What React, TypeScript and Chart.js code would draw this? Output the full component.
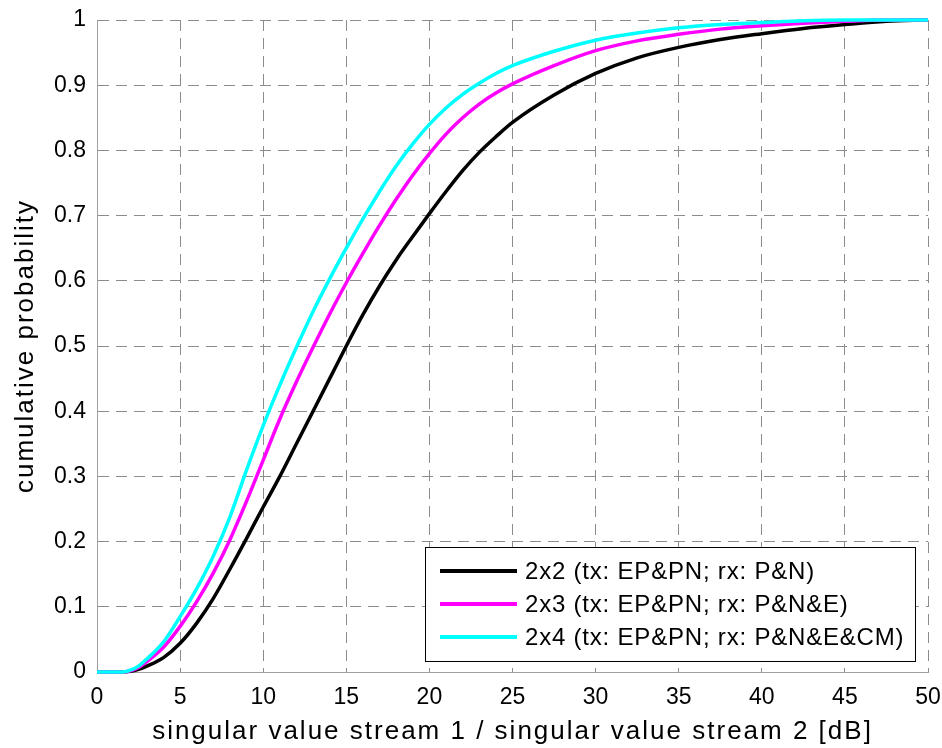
import React, { useEffect, useRef } from "react";
import { Chart, registerables } from "chart.js";

Chart.register(...registerables);

// x positions (dB) at which the curves were read
const xValues = [
  0, 1, 1.5, 2, 2.5, 3, 4, 5, 6, 7, 8, 9, 10, 11, 12, 13, 14, 15, 16, 17, 18, 19, 20,
  21, 22, 23, 24, 25, 27.5, 30, 32.5, 35, 37.5, 40, 42.5, 45, 47.5, 50,
];

const cdf2x2 = [
  0, 0, 0, 0.001, 0.004, 0.009, 0.022, 0.044, 0.075, 0.113, 0.158, 0.205, 0.253, 0.3, 0.35,
  0.4, 0.45, 0.5, 0.548, 0.592, 0.632, 0.668, 0.703, 0.737, 0.769, 0.797, 0.821, 0.843,
  0.885, 0.918, 0.942, 0.958, 0.97, 0.979, 0.987, 0.993, 0.998, 1,
];

const cdf2x3 = [
  0, 0, 0, 0.002, 0.007, 0.016, 0.038, 0.07, 0.108, 0.152, 0.203, 0.262, 0.325, 0.388, 0.445,
  0.498, 0.549, 0.597, 0.642, 0.685, 0.725, 0.762, 0.795, 0.825, 0.85, 0.871, 0.888, 0.902,
  0.93, 0.953, 0.968, 0.978, 0.986, 0.991, 0.995, 0.998, 1, 1,
];

const cdf2x4 = [
  0, 0, 0, 0.003, 0.009, 0.02, 0.046, 0.085, 0.128, 0.178, 0.238, 0.31, 0.378, 0.44, 0.498,
  0.553, 0.603, 0.65, 0.695, 0.737, 0.776, 0.81, 0.84, 0.865, 0.886, 0.903, 0.918, 0.93,
  0.952, 0.969, 0.98, 0.988, 0.993, 0.996, 0.999, 1, 1, 1,
];

const seriesLabels = [
  "2x2 (tx: EP&PN; rx: P&N)",
  "2x3 (tx: EP&PN; rx: P&N&E)",
  "2x4 (tx: EP&PN; rx: P&N&E&CM)",
];
const seriesColors = ["#000000", "#ff00ff", "#00ffff"];
const seriesValues = [cdf2x2, cdf2x3, cdf2x4];

const xTitle = "singular value stream 1 / singular value stream 2 [dB]";
const yTitle = "cumulative probability";

const FONT = '"Liberation Sans", Arial, Helvetica, sans-serif';

const spacedTitles = {
  id: "spacedTitles",
  beforeDraw(chart: any) {
    Object.values(chart.scales).forEach((scale: any) => {
      if (scale.__patched) return;
      const orig = scale.drawTitle.bind(scale);
      scale.drawTitle = function () {
        const c: any = this.ctx;
        const prev = c.letterSpacing;
        c.letterSpacing = "2px";
        orig();
        c.letterSpacing = prev || "0px";
      };
      scale.__patched = true;
    });
  },
};

const boxLegend = {
  id: "boxLegend",
  afterDatasetsDraw(chart: any) {
    const { ctx, chartArea } = chart;
    const w = 490;
    const h = 114;
    const right = chartArea.right - 13;
    const bottom = chartArea.bottom - 11;
    const left = right - w;
    const top = bottom - h;
    ctx.save();
    ctx.fillStyle = "#ffffff";
    ctx.fillRect(left, top, w, h);
    ctx.strokeStyle = "#000000";
    ctx.lineWidth = 1;
    ctx.strokeRect(Math.round(left) + 0.5, Math.round(top) + 0.5, w, h);
    chart.data.datasets.forEach((ds: any, i: number) => {
      const y = top + 24 + i * 33;
      ctx.beginPath();
      ctx.strokeStyle = ds.borderColor;
      ctx.lineWidth = 4;
      ctx.moveTo(left + 15, y);
      ctx.lineTo(left + 92, y);
      ctx.stroke();
      ctx.fillStyle = "#000000";
      ctx.font = `24px ${FONT}`;
      (ctx as any).letterSpacing = "0.8px";
      ctx.textBaseline = "middle";
      ctx.textAlign = "left";
      ctx.fillText(ds.label, left + 100, y + 1);
    });
    ctx.restore();
  },
};

export default function App() {
  const canvasRef = useRef<HTMLCanvasElement | null>(null);

  useEffect(() => {
    if (!canvasRef.current) return;
    const datasets = seriesValues.map((vals, i) => ({
      label: seriesLabels[i],
      data: xValues.map((x, j) => ({ x, y: vals[j] })),
      borderColor: seriesColors[i],
      backgroundColor: seriesColors[i],
      borderWidth: 3.5,
      pointRadius: 0,
      fill: false,
      cubicInterpolationMode: "monotone" as const,
      clip: 4,
      order: 3 - i,
    }));

    const chart = new Chart(canvasRef.current, {
      type: "line",
      data: { datasets },
      options: {
        animation: false,
        responsive: false,
        devicePixelRatio: 1,
        layout: { padding: { left: 0, right: 14, top: 20, bottom: 0 } },
        plugins: {
          legend: { display: false },
          tooltip: { enabled: false },
        },
        scales: {
          x: {
            type: "linear",
            min: 0,
            max: 50,
            ticks: {
              stepSize: 5,
              color: "#000000",
              font: { family: FONT, size: 23 },
              padding: 12,
              maxRotation: 0,
            },
            grid: { color: "#8c8c8c", lineWidth: 1, drawTicks: false },
            border: { display: true, color: "#a0a0a0", width: 1, dash: [11, 7] },
            title: {
              display: true,
              text: xTitle,
              color: "#000000",
              font: { family: FONT, size: 26 },
              padding: { top: 0, bottom: 1 },
            },
            afterFit: (s: any) => {
              s.height = 76;
              s.paddingLeft = 0;
              s.paddingRight = 0;
            },
          },
          y: {
            type: "linear",
            min: 0,
            max: 1,
            ticks: {
              stepSize: 0.1,
              color: "#000000",
              font: { family: FONT, size: 23 },
              padding: 11,
              callback: (v: any) => String(Math.round(Number(v) * 10) / 10),
            },
            grid: { color: "#8c8c8c", lineWidth: 1, drawTicks: false },
            border: { display: true, color: "#a0a0a0", width: 1, dash: [11, 7] },
            title: {
              display: true,
              text: yTitle,
              color: "#000000",
              font: { family: FONT, size: 26 },
              padding: { top: 10, bottom: 0 },
            },
            afterFit: (s: any) => {
              s.width = 97;
              s.paddingTop = 0;
              s.paddingBottom = 0;
            },
          },
        },
      },
      plugins: [spacedTitles, boxLegend],
    });
    chart.update();

    return () => chart.destroy();
  }, []);

  return (
    <div style={{ position: "absolute", left: 0, top: 0, width: 942, height: 748, background: "#ffffff" }}>
      <canvas ref={canvasRef} width={942} height={748} />
    </div>
  );
}
